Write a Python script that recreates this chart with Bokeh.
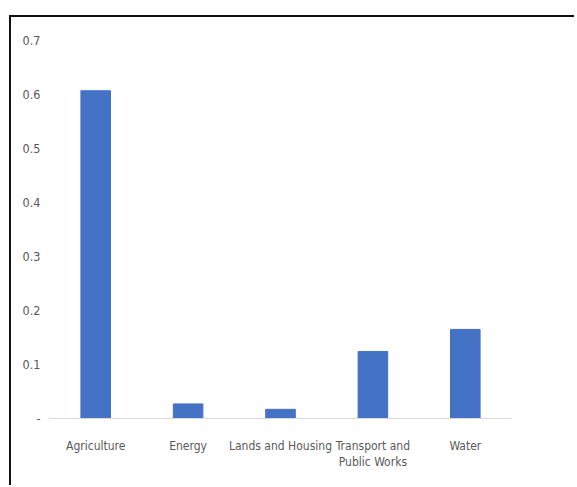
from bokeh.plotting import figure
from bokeh.models import FixedTicker, ColumnDataSource
from bokeh.embed import file_html
from bokeh.resources import INLINE

categories = ["Agriculture", "Energy", "Lands and Housing", "Transport and\nPublic Works", "Water"]
values = [0.607, 0.027, 0.017, 0.124, 0.165]
y_ticks = [0, 0.1, 0.2, 0.3, 0.4, 0.5, 0.6, 0.7]
y_labels = ["-", "0.1", "0.2", "0.3", "0.4", "0.5", "0.6", "0.7"]

FONT = "DejaVu Sans Condensed"
GRAY = "#595959"

src = ColumnDataSource(dict(cat=categories, val=values))

p = figure(x_range=categories, y_range=(0, 0.7), width=565, height=470,
           output_backend="svg", toolbar_location=None,
           min_border_left=38, min_border_right=65, min_border_top=23, min_border_bottom=69)
p.styles = {"border-top": "2px solid #111", "border-left": "2px solid #111",
            "margin-left": "9px", "margin-top": "15px"}
p.outline_line_color = None
p.vbar(x="cat", top="val", width=0.32, color="#4472C4", source=src)

p.xgrid.grid_line_color = None
p.ygrid.grid_line_color = None

p.yaxis.ticker = FixedTicker(ticks=y_ticks)
p.yaxis.major_label_overrides = {t: l for t, l in zip(y_ticks, y_labels)}
p.yaxis.axis_line_color = None
p.yaxis.major_tick_line_color = None
p.yaxis.minor_tick_line_color = None
p.yaxis.major_label_standoff = 3
p.yaxis.major_label_text_font = FONT
p.yaxis.major_label_text_font_size = "12.5px"
p.yaxis.major_label_text_color = GRAY

p.xaxis.axis_line_color = "#d9d9d9"
p.xaxis.major_tick_line_color = None
p.xaxis.minor_tick_line_color = None
p.xaxis.major_label_standoff = 14
p.xaxis.major_label_text_font = FONT
p.xaxis.major_label_text_font_size = "12px"
p.xaxis.major_label_text_color = GRAY

open("out.html", "w").write(file_html(p, INLINE))
